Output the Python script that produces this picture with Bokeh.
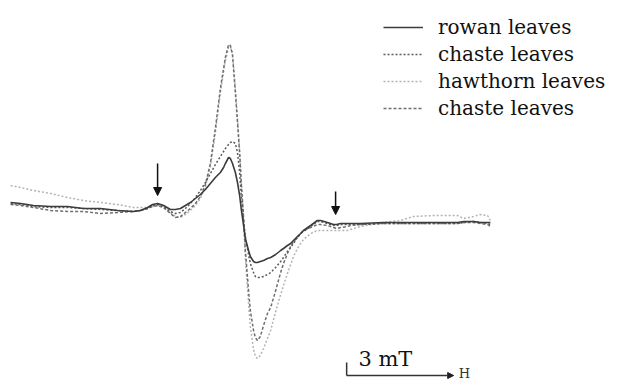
from bokeh.plotting import figure
from bokeh.models import Range1d, Legend, LegendItem, Arrow, NormalHead, Label, ColumnDataSource
from bokeh.embed import file_html
from bokeh.resources import INLINE

# magnetic field (mT, relative) and EPR signal (arbitrary units)
field_mT = [0.06, 0.34, 0.70, 1.18, 1.65, 2.10, 2.58, 3.06, 3.50, 3.70,
            3.90, 4.04, 4.18, 4.35, 4.54, 4.68, 4.82, 4.96, 5.10, 5.24,
            5.38, 5.52, 5.66, 5.80, 5.94, 6.03, 6.08, 6.17, 6.22, 6.28,
            6.36, 6.42, 6.48, 6.53, 6.59, 6.64, 6.73, 6.78, 6.87, 6.92,
            6.98, 7.06, 7.15, 7.26, 7.35, 7.49, 7.63, 7.71, 7.82, 7.91,
            7.99, 8.10, 8.19, 8.27, 8.47, 8.66, 8.75, 8.94, 9.11, 9.20,
            9.31, 9.50, 9.59, 9.87, 10.51, 10.99, 11.35, 11.92, 12.59, 12.76,
            13.04, 13.23, 13.43, 13.51]

rowan = [0.8, 0.7, 0.5, 0.4, 0.4, 0.2, 0.2, 0.0, -0.1, 0.0,
         0.3, 0.6, 0.7, 0.5, 0.1, 0.1, 0.2, 0.5, 0.8, 1.2,
         1.6, 2.1, 2.7, 3.3, 3.8, 4.3, 4.7, 5.3, 5.2, 4.7,
         3.8, 2.8, 1.5, 0.0, -1.5, -2.8, -4.0, -4.6, -5.1, -5.2,
         -5.2, -5.1, -5.0, -4.8, -4.7, -4.4, -4.0, -3.8, -3.5, -3.3,
         -3.0, -2.6, -2.3, -2.0, -1.5, -1.0, -1.0, -1.2, -1.4, -1.4,
         -1.3, -1.3, -1.3, -1.3, -1.2, -1.2, -1.2, -1.2, -1.2, -1.1,
         -1.1, -1.2, -1.2, -1.2]

chaste_1 = [0.7, 0.6, 0.4, 0.3, 0.3, 0.2, 0.1, 0.0, -0.1, 0.0,
            0.2, 0.5, 0.6, 0.4, -0.1, -0.3, -0.2, 0.2, 0.7, 1.3,
            2.0, 2.8, 3.7, 4.6, 5.4, 5.9, 6.2, 6.6, 6.8, 6.9,
            6.7, 5.8, 3.8, 1.2, -1.0, -2.6, -4.4, -5.3, -6.2, -6.6,
            -6.7, -6.7, -6.6, -6.4, -6.2, -5.7, -5.1, -4.7, -4.1, -3.7,
            -3.3, -2.7, -2.3, -2.1, -1.6, -1.1, -1.1, -1.3, -1.5, -1.5,
            -1.4, -1.4, -1.4, -1.4, -1.3, -1.3, -1.3, -1.3, -1.3, -1.2,
            -1.1, -1.2, -1.3, -1.4]

hawthorn = [2.5, 2.3, 2.0, 1.7, 1.3, 1.0, 0.8, 0.6, 0.3, 0.3,
            0.3, 0.4, 0.5, 0.3, -0.2, -0.6, -0.7, -0.4, 0.0, 0.5,
            1.2, 2.4, 4.4, 7.8, 11.8, 13.8, 15.0, 16.3, 16.4, 15.8,
            12.2, 9.2, 6.0, 2.6, -1.0, -4.8, -9.3, -11.6, -13.9, -14.6,
            -14.8, -14.5, -13.8, -12.8, -12.0, -10.1, -8.4, -7.5, -6.3, -5.4,
            -4.6, -3.8, -3.3, -2.9, -2.3, -2.0, -2.0, -2.0, -2.0, -2.0,
            -2.0, -2.0, -1.9, -1.6, -1.2, -1.0, -0.6, -0.5, -0.5, -0.8,
            -0.6, -0.4, -0.5, -1.0]

chaste_2 = [0.6, 0.5, 0.3, 0.0, -0.1, -0.1, -0.3, -0.2, -0.1, 0.0,
            0.2, 0.4, 0.5, 0.3, -0.3, -0.7, -0.6, -0.2, 0.2, 0.7,
            1.4, 2.6, 4.7, 8.2, 12.2, 14.2, 15.3, 16.6, 16.5, 15.5,
            11.8, 8.8, 5.7, 2.5, -0.6, -4.0, -8.0, -10.0, -12.0, -12.7,
            -13.0, -12.6, -11.5, -10.3, -9.7, -8.0, -6.2, -5.3, -4.3, -3.6,
            -3.1, -2.7, -2.3, -2.0, -1.7, -1.4, -1.4, -1.5, -1.7, -1.8,
            -1.7, -1.6, -1.5, -1.4, -1.3, -1.3, -1.3, -1.3, -1.3, -1.2,
            -1.2, -1.3, -1.4, -1.6]

series_labels = ["rowan leaves", "chaste leaves", "hawthorn leaves", "chaste leaves"]

# arrows marking the weak side features
marker_field = [4.18, 9.17]
marker_top = [4.7, 1.9]
marker_tip = [1.5, -0.4]

# field scale bar
scale_start = 9.48
scale_len_mT = 3.0
scale_y = -16.5
scale_tick_top = -15.2

src = ColumnDataSource(dict(B=field_mT, rowan=rowan, chaste_1=chaste_1,
                            hawthorn=hawthorn, chaste_2=chaste_2))

p = figure(width=622, height=380, x_range=Range1d(-0.224, 17.213), y_range=Range1d(-17.0, 21.0),
           output_backend="svg", toolbar_location=None,
           x_axis_location=None, y_axis_location=None, min_border=0,
           outline_line_color=None, background_fill_color="white")
p.xgrid.visible = False
p.ygrid.visible = False

r_haw = p.line("B", "hawthorn", source=src, line_color="#b4b4b4", line_width=1.5, line_dash="2 2")
r_ch2 = p.line("B", "chaste_2", source=src, line_color="#6e6e6e", line_width=1.5, line_dash="3 2")
r_ch1 = p.line("B", "chaste_1", source=src, line_color="#5a5a5a", line_width=1.5, line_dash="2 2")
r_row = p.line("B", "rowan", source=src, line_color="#3c3c3c", line_width=1.6)

legend = Legend(items=[LegendItem(label=series_labels[0], renderers=[r_row]),
                       LegendItem(label=series_labels[1], renderers=[r_ch1]),
                       LegendItem(label=series_labels[2], renderers=[r_haw]),
                       LegendItem(label=series_labels[3], renderers=[r_ch2])],
                location=(383, 260), padding=0, margin=0, spacing=3,
                glyph_width=40, glyph_height=24, label_height=24, label_standoff=15,
                label_text_font="DejaVu Serif", label_text_font_size="20px",
                label_text_color="#111111",
                border_line_color=None, background_fill_alpha=0)
p.add_layout(legend)

for xm, yt, yb in zip(marker_field, marker_top, marker_tip):
    p.add_layout(Arrow(end=NormalHead(size=8, fill_color="#111111", line_color="#111111"),
                       x_start=xm, y_start=yt, x_end=xm, y_end=yb,
                       line_color="#111111", line_width=1.5))

p.segment(x0=[scale_start], y0=[scale_tick_top], x1=[scale_start], y1=[scale_y],
          line_color="#333333", line_width=1.5)
p.add_layout(Arrow(end=NormalHead(size=6, fill_color="#222222", line_color="#222222"),
                   x_start=scale_start, y_start=scale_y,
                   x_end=scale_start + scale_len_mT, y_end=scale_y,
                   line_color="#333333", line_width=1.5))
p.add_layout(Label(x=scale_start + 0.33, y=-14.8, text="3 mT",
                   text_font="DejaVu Serif", text_font_size="21px",
                   text_color="#111111", text_baseline="alphabetic"))
p.add_layout(Label(x=scale_start + scale_len_mT + 0.14, y=scale_y + 0.25, text="H",
                   text_font="DejaVu Serif", text_font_size="13px",
                   text_color="#333333", text_baseline="middle"))

open("out.html", "w").write(file_html(p, INLINE))
